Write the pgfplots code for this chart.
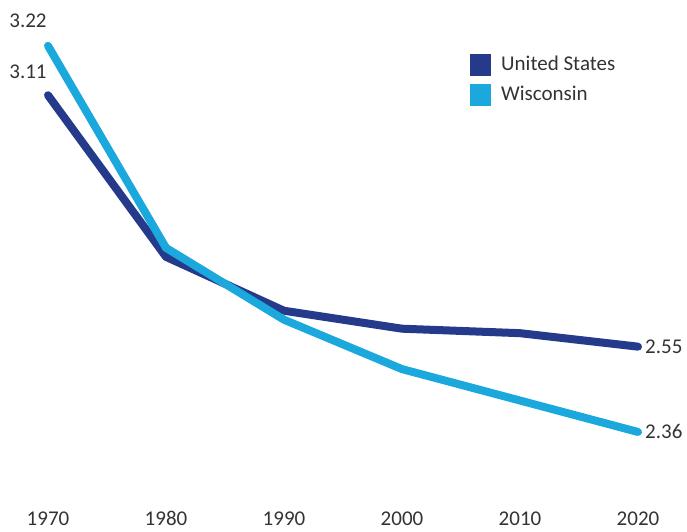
\documentclass[border=0pt]{standalone}
\usepackage{pgfplots}
\pgfplotsset{compat=1.18}
\usepackage{fontspec}
\setmainfont{Carlito}
\definecolor{usblue}{HTML}{253A8A}
\definecolor{wiblue}{HTML}{1BA8DD}
\definecolor{txt}{HTML}{333333}
\begin{document}
\fontsize{21}{25}\selectfont
\begin{tikzpicture}[x=1pt,y=1pt]
\path[use as bounding box] (0,0) rectangle (687,531);
\begin{axis}[
  at={(48pt,27.2pt)}, anchor=south west,
  scale only axis, width=590pt, height=493.9pt,
  xmin=1970, xmax=2020, ymin=2.2, ymax=3.3,
  enlargelimits=false, clip=false,
  axis line style={draw=none},
  ymajorticks=false,
  xtick={1970,1980,1990,2000,2010,2020},
  xticklabel style={text=txt, anchor=base, yshift=-21.5pt, inner sep=0pt, font=\fontsize{21}{25}\selectfont},
  xticklabel={\pgfmathprintnumber[1000 sep=]{\tick}},
  major tick length=0pt,
  legend style={draw=none, fill=none, at={(422pt,450pt)}, anchor=north west,
    font=\fontsize{21}{25}\selectfont\color{txt}, row sep=8pt,
    legend cell align=left, inner sep=0pt},
  legend image code/.code={\path[#1, draw=none, fill] (0pt,-11pt) rectangle (21pt,11pt); \path (25pt,0pt);},
  /pgf/number format/assume math mode=true,
]
\addplot[usblue, line width=8pt, line cap=round, line join=round] coordinates {
  (1970,3.11) (1980,2.75) (1990,2.63) (2000,2.59) (2010,2.58) (2020,2.55)};
\addlegendentry{United States}
\addplot[wiblue, line width=8pt, line cap=round, line join=round] coordinates {
  (1970,3.22) (1980,2.77) (1990,2.61) (2000,2.50) (2010,2.43) (2020,2.36)};
\addlegendentry{Wisconsin}
\node[text=txt, anchor=center, inner sep=0pt] at (axis cs:1970,3.22) [xshift=-20pt, yshift=25pt] {3.22};
\node[text=txt, anchor=center, inner sep=0pt] at (axis cs:1970,3.11) [xshift=-20pt, yshift=23pt] {3.11};
\node[text=txt, anchor=west, inner sep=0pt] at (axis cs:2020,2.55) [xshift=7pt] {2.55};
\node[text=txt, anchor=west, inner sep=0pt] at (axis cs:2020,2.36) [xshift=7pt] {2.36};
\end{axis}
\end{tikzpicture}
\end{document}
